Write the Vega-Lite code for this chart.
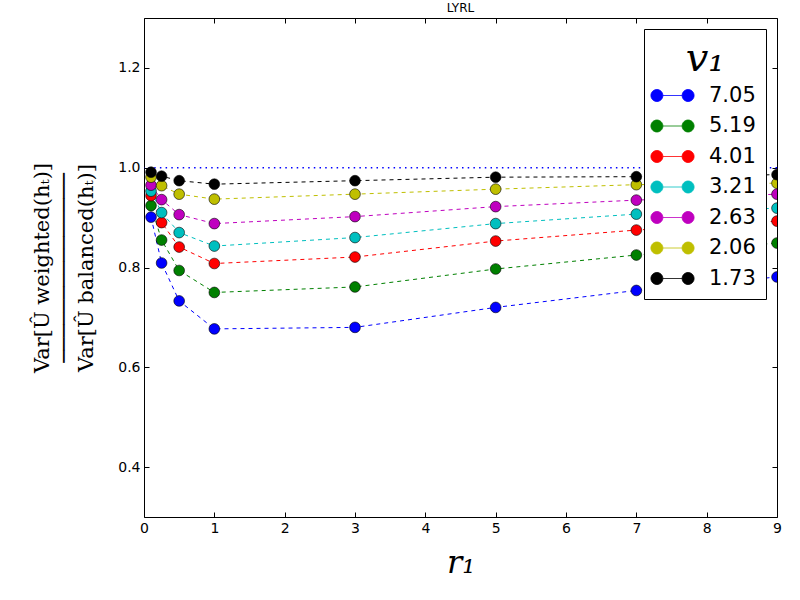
{
  "$schema": "https://vega.github.io/schema/vega-lite/v6.json",
  "width": 633,
  "height": 499,
  "autosize": {"type": "none"},
  "padding": {"left": 144, "top": 18, "right": 23, "bottom": 83},
  "title": {"text": "LYRL", "fontSize": 12, "fontWeight": "normal", "font": "DejaVu Sans", "offset": 3, "color": "black"},
  "config": {
    "view": {"stroke": "black", "strokeWidth": 1},
    "axis": {"grid": false, "domain": false, "tickColor": "black", "tickSize": -5, "labelFlush": false, "labelFont": "DejaVu Sans", "labelFontSize": 14, "labelColor": "black", "labelPadding": 9}
  },
  "datasets": {
    "series": [
      {"r": 0.1, "v": "7.05", "ratio": 0.901}, {"r": 0.25, "v": "7.05", "ratio": 0.809}, {"r": 0.5, "v": "7.05", "ratio": 0.733}, {"r": 1, "v": "7.05", "ratio": 0.677},
      {"r": 3, "v": "7.05", "ratio": 0.680}, {"r": 5, "v": "7.05", "ratio": 0.720}, {"r": 7, "v": "7.05", "ratio": 0.754}, {"r": 9, "v": "7.05", "ratio": 0.781},
      {"r": 0.1, "v": "5.19", "ratio": 0.924}, {"r": 0.25, "v": "5.19", "ratio": 0.855}, {"r": 0.5, "v": "5.19", "ratio": 0.794}, {"r": 1, "v": "5.19", "ratio": 0.750},
      {"r": 3, "v": "5.19", "ratio": 0.761}, {"r": 5, "v": "5.19", "ratio": 0.797}, {"r": 7, "v": "5.19", "ratio": 0.825}, {"r": 9, "v": "5.19", "ratio": 0.849},
      {"r": 0.1, "v": "4.01", "ratio": 0.944}, {"r": 0.25, "v": "4.01", "ratio": 0.890}, {"r": 0.5, "v": "4.01", "ratio": 0.841}, {"r": 1, "v": "4.01", "ratio": 0.808},
      {"r": 3, "v": "4.01", "ratio": 0.821}, {"r": 5, "v": "4.01", "ratio": 0.853}, {"r": 7, "v": "4.01", "ratio": 0.875}, {"r": 9, "v": "4.01", "ratio": 0.893},
      {"r": 0.1, "v": "3.21", "ratio": 0.953}, {"r": 0.25, "v": "3.21", "ratio": 0.910}, {"r": 0.5, "v": "3.21", "ratio": 0.870}, {"r": 1, "v": "3.21", "ratio": 0.843},
      {"r": 3, "v": "3.21", "ratio": 0.860}, {"r": 5, "v": "3.21", "ratio": 0.888}, {"r": 7, "v": "3.21", "ratio": 0.907}, {"r": 9, "v": "3.21", "ratio": 0.919},
      {"r": 0.1, "v": "2.63", "ratio": 0.965}, {"r": 0.25, "v": "2.63", "ratio": 0.936}, {"r": 0.5, "v": "2.63", "ratio": 0.906}, {"r": 1, "v": "2.63", "ratio": 0.888},
      {"r": 3, "v": "2.63", "ratio": 0.902}, {"r": 5, "v": "2.63", "ratio": 0.922}, {"r": 7, "v": "2.63", "ratio": 0.935}, {"r": 9, "v": "2.63", "ratio": 0.947},
      {"r": 0.1, "v": "2.06", "ratio": 0.981}, {"r": 0.25, "v": "2.06", "ratio": 0.964}, {"r": 0.5, "v": "2.06", "ratio": 0.947}, {"r": 1, "v": "2.06", "ratio": 0.937},
      {"r": 3, "v": "2.06", "ratio": 0.947}, {"r": 5, "v": "2.06", "ratio": 0.957}, {"r": 7, "v": "2.06", "ratio": 0.966}, {"r": 9, "v": "2.06", "ratio": 0.969},
      {"r": 0.1, "v": "1.73", "ratio": 0.991}, {"r": 0.25, "v": "1.73", "ratio": 0.983}, {"r": 0.5, "v": "1.73", "ratio": 0.974}, {"r": 1, "v": "1.73", "ratio": 0.967},
      {"r": 3, "v": "1.73", "ratio": 0.974}, {"r": 5, "v": "1.73", "ratio": 0.981}, {"r": 7, "v": "1.73", "ratio": 0.982}, {"r": 9, "v": "1.73", "ratio": 0.986}
    ],
    "reference": [{"level": 1.0}]
  },
  "resolve": {"axis": {"x": "independent", "y": "independent"}},
  "layer": [
    {
      "data": {"name": "reference"},
      "mark": {"type": "rule", "color": "#0000ff", "strokeWidth": 1.5, "strokeDash": [1.5, 4.2]},
      "encoding": {
        "y": {"field": "level", "type": "quantitative", "scale": {"domain": [0.3, 1.3], "nice": false, "zero": false},
          "axis": {"orient": "right", "labels": false, "title": null, "values": [0.4, 0.6, 0.8, 1.0, 1.2]}}
      }
    },
    {
      "data": {"name": "series"},
      "mark": {"type": "line", "strokeWidth": 1, "strokeDash": [4, 4], "clip": true},
      "encoding": {
        "x": {"field": "r", "type": "quantitative", "scale": {"domain": [0, 9], "nice": false, "zero": false},
          "axis": {"orient": "top", "labels": false, "title": null, "values": [0, 1, 2, 3, 4, 5, 6, 7, 8, 9]}},
        "y": {"field": "ratio", "type": "quantitative", "axis": null},
        "color": {"field": "v", "type": "nominal",
          "scale": {"domain": ["7.05", "5.19", "4.01", "3.21", "2.63", "2.06", "1.73"],
            "range": ["#0000ff", "#008000", "#ff0000", "#00bfbf", "#bf00bf", "#bfbf00", "#000000"]}},
        "order": {"field": "r", "type": "quantitative"}
      }
    },
    {
      "data": {"name": "series"},
      "mark": {"type": "point", "filled": true, "opacity": 1, "size": 115, "shape": "circle", "stroke": "black", "strokeWidth": 0.6, "clip": true},
      "encoding": {
        "x": {"field": "r", "type": "quantitative",
          "axis": {"orient": "bottom", "title": "r₁", "titleFont": "DejaVu Serif", "titleFontStyle": "italic", "titleFontWeight": "normal", "titleFontSize": 32, "titlePadding": 12, "titleColor": "black",
            "values": [0, 1, 2, 3, 4, 5, 6, 7, 8, 9], "format": "d"}},
        "y": {"field": "ratio", "type": "quantitative",
          "axis": {"orient": "left", "values": [0.4, 0.6, 0.8, 1.0, 1.2], "format": ".1f",
            "title": ["Var[Û weighted(hₜ)]", "───────────────", "Var[Û balanced(hₜ)]"],
            "titleFont": "DejaVu Serif", "titleFontWeight": "normal", "titleFontSize": 21, "titleLineHeight": 22, "titlePadding": 21, "titleColor": "black"}},
        "color": {"field": "v", "type": "nominal",
          "legend": {
            "orient": "top-right", "offset": 11, "title": "v₁",
            "titleFont": "DejaVu Serif", "titleFontStyle": "italic", "titleFontWeight": "normal", "titleFontSize": 40, "titleColor": "black",
            "titleAnchor": "middle", "titleAlign": "center", "titlePadding": 6,
            "labelFont": "DejaVu Sans", "labelFontSize": 21, "labelColor": "black", "labelOffset": 26,
            "symbolType": "M -1.6,0 A 1,1 0 1,1 -3.6,0 A 1,1 0 1,1 -1.6,0 M -1.6,0 L 1.6,0 M 3.6,0 A 1,1 0 1,1 1.6,0 A 1,1 0 1,1 3.6,0 Z",
            "symbolSize": 144, "symbolOffset": 8, "symbolStrokeWidth": 0.8, "symbolOpacity": 1,
            "rowPadding": 8.5, "padding": 10, "strokeColor": "black", "fillColor": "white", "cornerRadius": 0
          }
        }
      }
    }
  ]
}
